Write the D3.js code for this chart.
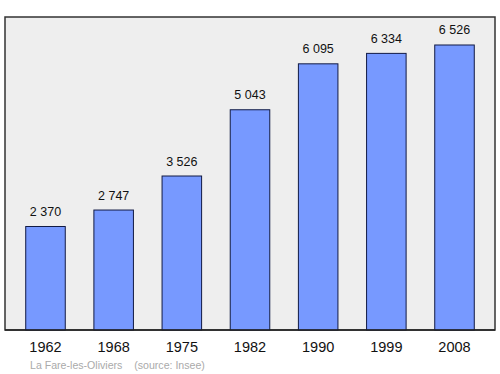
<!DOCTYPE html>
<html>
<head>
<meta charset="utf-8">
<script src="https://cdn.jsdelivr.net/npm/d3@7"></script>
<style>
  body { margin: 0; background: #fff; }
  text { font-family: "Liberation Sans", Arial, sans-serif; }
</style>
</head>
<body>
<script>
let years = ["1962", "1968", "1975", "1982", "1990", "1999", "2008"];
let population = [2370, 2747, 3526, 5043, 6095, 6334, 6526];
let sourceText = "La Fare-les-Oliviers    (source: Insee)";

let width = 500, height = 374;
let frame = {left: 5, top: 17, right: 495, bottom: 330};

let svg = d3.select("body").append("svg")
    .attr("width", width)
    .attr("height", height);

svg.append("rect")
    .attr("x", frame.left)
    .attr("y", frame.top)
    .attr("width", frame.right - frame.left)
    .attr("height", frame.bottom - frame.top)
    .attr("fill", "#eeeeee")
    .attr("stroke", "#333")
    .attr("stroke-width", 1.5);

let x = d3.scaleBand()
    .domain(years)
    .range([frame.left + 3, frame.right - 3])
    .paddingInner(0.42)
    .paddingOuter(0.26);

let y = d3.scaleLinear()
    .domain([0, 7167])
    .range([frame.bottom, frame.top]);

svg.append("g").selectAll("rect")
    .data(population)
    .join("rect")
    .attr("x", (d, i) => x(years[i]))
    .attr("y", d => y(d))
    .attr("width", x.bandwidth())
    .attr("height", d => frame.bottom - y(d))
    .attr("fill", "#7799ff")
    .attr("stroke", "#111a44")
    .attr("stroke-width", 1);

svg.append("g").selectAll("text")
    .data(population)
    .join("text")
    .attr("x", (d, i) => x(years[i]) + x.bandwidth() / 2)
    .attr("y", d => y(d) - 10.5)
    .attr("text-anchor", "middle")
    .attr("font-size", 12.5)
    .attr("fill", "#111")
    .text(d => d3.format(",")(d).replace(",", " "));

// redraw bottom edge over bars
svg.append("line")
    .attr("x1", frame.left).attr("x2", frame.right)
    .attr("y1", frame.bottom).attr("y2", frame.bottom)
    .attr("stroke", "#222").attr("stroke-width", 1.5);

svg.append("g").selectAll("text")
    .data(years)
    .join("text")
    .attr("x", d => x(d) + x.bandwidth() / 2)
    .attr("y", 352)
    .attr("text-anchor", "middle")
    .attr("font-size", 14.5)
    .attr("fill", "#111")
    .text(d => d);

svg.append("text")
    .attr("x", 30)
    .attr("y", 368.5)
    .attr("font-size", 10.6)
    .attr("fill", "#aaaaaa")
    .attr("xml:space", "preserve")
    .style("white-space", "pre")
    .text(sourceText);
</script>
</body>
</html>
